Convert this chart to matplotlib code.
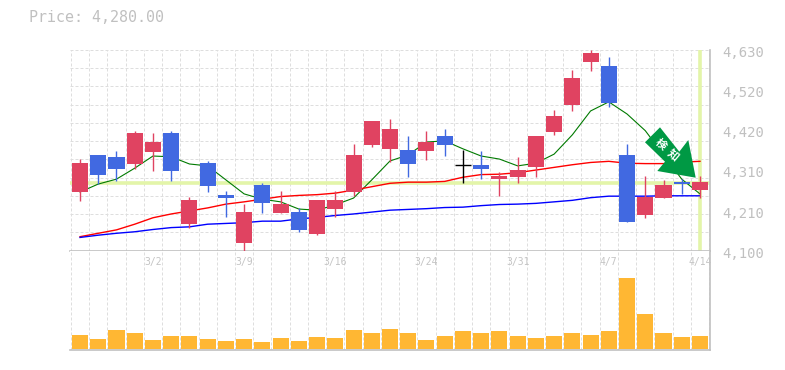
import matplotlib
matplotlib.use('Agg')
import matplotlib.pyplot as plt
from matplotlib.patches import Polygon
import numpy as np

# candles, index 0 is the first trading day on the chart
opens = [4255, 4353, 4347, 4329, 4361, 4411, 4171, 4332, 4247, 4120, 4274, 4200, 4202, 4144, 4210, 4255, 4379, 4369,
         4366, 4363, 4403, 4325, 4326, 4289, 4295, 4321, 4413, 4485, 4598, 4588, 4353, 4194, 4239, 4281, 4260]
closes = [4332, 4300, 4316, 4411, 4387, 4310, 4234, 4271, 4239, 4202, 4226, 4223, 4155, 4234, 4234, 4353, 4442, 4421,
          4329, 4387, 4379, 4325, 4316, 4297, 4313, 4403, 4456, 4556, 4622, 4490, 4176, 4242, 4274, 4276, 4281]
highs = [4342, 4353, 4363, 4416, 4411, 4416, 4242, 4337, 4258, 4223, 4279, 4258, 4213, 4234, 4258, 4382, 4442, 4448,
         4403, 4416, 4421, 4366, 4363, 4308, 4347, 4403, 4472, 4577, 4630, 4612, 4382, 4297, 4287, 4289, 4297]
lows = [4231, 4276, 4284, 4316, 4310, 4284, 4160, 4255, 4189, 4099, 4200, 4200, 4149, 4141, 4189, 4244, 4374, 4334,
        4295, 4340, 4350, 4279, 4289, 4244, 4279, 4295, 4406, 4469, 4575, 4479, 4176, 4186, 4239, 4250, 4239]

ma_short = [4255, 4276, 4289, 4318, 4350, 4348, 4329, 4324, 4287, 4250, 4236, 4229, 4210, 4207, 4221, 4239, 4287, 4337,
            4353, 4387, 4390, 4369, 4350, 4342, 4324, 4331, 4355, 4406, 4469, 4493, 4461, 4417, 4353, 4289, 4250]
ma_mid = [4137, 4146, 4155, 4170, 4187, 4197, 4205, 4213, 4223, 4229, 4236, 4243, 4246, 4248, 4252, 4260, 4269, 4278,
          4281, 4281, 4283, 4294, 4301, 4302, 4306, 4313, 4320, 4327, 4333, 4336, 4331, 4330, 4330, 4334, 4336]
ma_long = [4135, 4141, 4146, 4150, 4156, 4161, 4163, 4170, 4172, 4174, 4178, 4178, 4184, 4188, 4193, 4197, 4202, 4207,
           4209, 4211, 4214, 4215, 4219, 4222, 4223, 4225, 4229, 4233, 4240, 4244, 4244, 4244, 4245, 4245, 4245]

volumes = [14, 10, 19, 16, 9, 13, 13, 10, 8, 10, 7, 11, 8, 12, 11, 19, 16, 20,
           16, 9, 13, 18, 16, 18, 13, 11, 13, 16, 14, 18, 71, 35, 16, 12, 13]

date_pos = [4, 9, 14, 19, 24, 29, 34]
date_labels = ['3/2', '3/9', '3/16', '3/24', '3/31', '4/7', '4/14']
price_ticks = [4630, 4524, 4418, 4312, 4206, 4100]
price_labels = ['4,630', '4,520', '4,420', '4,310', '4,210', '4,100']
last_price = 4280

W, H = 785, 370
GRAY = '#c0c0c0'
GRID = '#dedede'
MONO = 'DejaVu Sans Mono'
DASH = (0, (3, 2))


def pxAxes(left, top, right, bottom):
    return fig.add_axes([left / W, (H - bottom) / H, (right - left) / W, (bottom - top) / H])


fig = plt.figure(figsize=(W / 100, H / 100), dpi=100)
ax = pxAxes(70, 50, 710, 250.7)
axVol = pxAxes(70, 250.7, 710, 350)

x = np.arange(len(opens))
for a in (ax, axVol):
    a.set_xlim(-0.55, 34.55)
    a.set_xticks(np.arange(-0.5, 34.6, 1))
    a.tick_params(length=0, labelbottom=False, labelleft=False)
    a.grid(True, axis='x', color=GRID, linewidth=0.72, linestyle=DASH)
    a.set_axisbelow(True)
    for s in ('top', 'left'):
        a.spines[s].set_visible(False)
    for s in ('bottom', 'right'):
        a.spines[s].set_color(GRAY)
        a.spines[s].set_linewidth(1.2)

ax.set_ylim(4100, 4630)
ax.set_yticks(np.linspace(4100, 4630, 12))
ax.grid(True, axis='y', color=GRID, linewidth=0.72, linestyle=DASH)

# last price cross
ax.axhline(last_price, color='#e3f5a9', linewidth=2.6, zorder=1)
ax.plot([34, 34], [4103, 4628], color='#e3f5a9', linewidth=2.6, zorder=1)

ax.plot(x, ma_short, color='#007a00', linewidth=0.8, zorder=2)
ax.plot(x, ma_mid, color='#ff0000', linewidth=1.0, zorder=2)
ax.plot(x, ma_long, color='#0000ff', linewidth=1.0, zorder=2)

for i in x:
    if closes[i] > opens[i]:
        col = '#e04361'
    elif closes[i] < opens[i]:
        col = '#4169e1'
    else:
        col = '#000000'
    ax.plot([i, i], [lows[i], highs[i]], color=col, linewidth=1, zorder=3, solid_capstyle='butt')
    if col == '#000000':
        ax.plot([i - 0.44, i + 0.44], [opens[i], opens[i]], color=col, linewidth=1, zorder=3, solid_capstyle='butt')
    else:
        ax.bar(i, abs(closes[i] - opens[i]), bottom=min(opens[i], closes[i]), width=0.88, color=col, zorder=3)

axVol.set_ylim(-1.5, 97.8)
axVol.bar(x, volumes, width=0.88, color='#ffb733', zorder=3)

for pos, lab in zip(date_pos, date_labels):
    axVol.annotate(lab, (pos, 1), xycoords=axVol.get_xaxis_transform(), xytext=(0, -11), textcoords='offset pixels',
                   ha='center', va='center', color='#c4c4c4', fontsize=7, family=MONO, annotation_clip=False)
for v, lab in zip(price_ticks, price_labels):
    ax.annotate(lab, (1, v), xycoords=ax.get_yaxis_transform(), xytext=(12, -3), textcoords='offset pixels',
                ha='left', va='center', color='#c0c0c0', fontsize=10, family=MONO, annotation_clip=False)

fig.text(29 / W, 1 - 18 / H, 'Price: 4,280.00', color='#c0c0c0', fontsize=10.8, family=MONO, ha='left', va='center')

# sign arrow, placed in figure pixels
arrow = [(660, 127.3), (645, 142.3), (665, 161.7), (657.3, 171), (695.7, 177.7), (688.3, 140), (679.3, 151.7)]
fig.add_artist(Polygon([(px / W, 1 - py / H) for px, py in arrow], closed=True, transform=fig.transFigure,
                       facecolor='#009944', edgecolor='none', zorder=5))
for ch, px, py in (('検', 660.7, 144.3), ('知', 673.3, 155)):
    fig.text(px / W, 1 - py / H, ch, color='white', fontsize=8, fontweight='bold', rotation=-40,
             rotation_mode='anchor', ha='center', va='center', family=['Noto Sans CJK JP', 'DejaVu Sans'], zorder=6)

fig.savefig('out.png', dpi=100)
